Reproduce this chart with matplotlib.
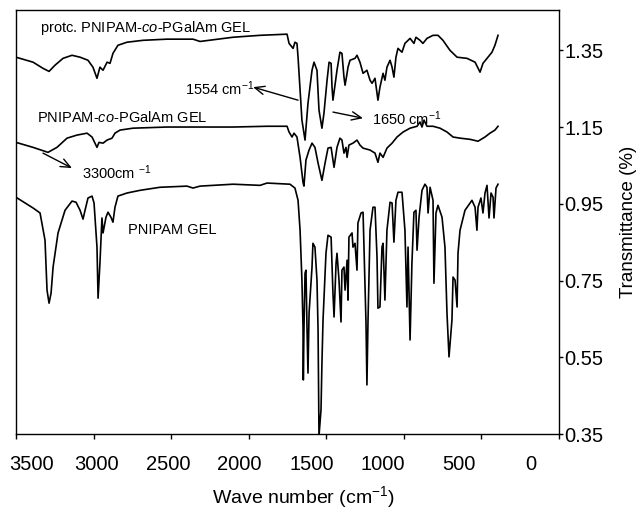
import numpy as np
import matplotlib
matplotlib.use('Agg')
import matplotlib.pyplot as plt

plt.rcParams['font.family'] = ['Liberation Sans', 'DejaVu Sans']
plt.rcParams['mathtext.fontset'] = 'custom'
plt.rcParams['mathtext.rm'] = 'Liberation Sans'
plt.rcParams['mathtext.it'] = 'Liberation Sans:italic'

# PNIPAM GEL spectrum (wavenumber, transmittance)
pnipam_wn = [3500, 3390, 3345, 3313, 3300, 3287, 3274, 3261, 3229, 3184, 3139, 3113, 3087, 3068,
             3055, 3036, 3010, 2997, 2978, 2971, 2959, 2946, 2939, 2920, 2907, 2888, 2875, 2862,
             2843, 2785, 2701, 2572, 2398, 2359, 2314, 2101, 1927, 1882, 1734, 1702, 1682, 1669,
             1657, 1650, 1648, 1644, 1637, 1631, 1624, 1618, 1611, 1592, 1586, 1573, 1560, 1553,
             1547, 1534, 1528, 1521, 1502, 1489, 1469, 1457, 1450, 1437, 1431, 1418, 1405, 1399,
             1386, 1379, 1366, 1360, 1354, 1334, 1328, 1315, 1302, 1296, 1276, 1263, 1257, 1244,
             1238, 1231, 1218, 1199, 1186, 1173, 1167, 1154, 1141, 1134, 1122, 1109, 1089, 1076,
             1064, 1051, 1038, 1012, 993, 980, 973, 960, 948, 935, 922, 915, 902, 883, 864, 851,
             844, 831, 812, 806, 793, 780, 754, 735, 722, 709, 690, 683, 670, 657, 651, 638, 606,
             561, 541, 529, 522, 503, 490, 477, 464, 451, 438, 425, 419, 406, 393]
pnipam_t = [0.967, 0.939, 0.926, 0.855, 0.725, 0.691, 0.717, 0.785, 0.874, 0.933, 0.957, 0.954,
            0.933, 0.910, 0.933, 0.965, 0.970, 0.952, 0.837, 0.704, 0.795, 0.913, 0.874, 0.915,
            0.928, 0.915, 0.902, 0.941, 0.970, 0.978, 0.985, 0.993, 0.996, 0.991, 0.996, 1.001,
            0.998, 1.004, 1.001, 0.991, 0.959, 0.881, 0.751, 0.629, 0.491, 0.621, 0.769, 0.777,
            0.621, 0.509, 0.665, 0.785, 0.847, 0.837, 0.751, 0.621, 0.345, 0.413, 0.535, 0.647,
            0.821, 0.868, 0.863, 0.717, 0.655, 0.795, 0.821, 0.751, 0.642, 0.777, 0.785, 0.725,
            0.803, 0.699, 0.863, 0.874, 0.837, 0.847, 0.777, 0.900, 0.926, 0.928, 0.837, 0.639,
            0.478, 0.647, 0.881, 0.941, 0.941, 0.811, 0.678, 0.681, 0.837, 0.847, 0.699, 0.881,
            0.954, 0.952, 0.850, 0.959, 0.980, 0.980, 0.881, 0.681, 0.837, 0.595, 0.795, 0.928,
            0.933, 0.829, 0.915, 0.985, 1.001, 0.993, 0.926, 0.993, 0.959, 0.743, 0.926, 0.946,
            0.915, 0.837, 0.665, 0.551, 0.647, 0.759, 0.751, 0.681, 0.821, 0.881, 0.933, 0.959,
            0.941, 0.881, 0.941, 0.965, 0.926, 0.978, 0.998, 0.913, 0.978, 0.967, 0.913, 0.991,
            1.001]

# PNIPAM-co-PGalAm GEL spectrum
copoly_wn = [3500, 3390, 3294, 3236, 3171, 3107, 3042, 3010, 2978, 2965, 2939, 2913, 2881, 2862,
             2830, 2746, 2527, 2314, 2101, 1882, 1753, 1740, 1721, 1708, 1689, 1669, 1650, 1644,
             1631, 1611, 1592, 1573, 1553, 1528, 1508, 1489, 1469, 1457, 1450, 1431, 1412, 1399,
             1386, 1373, 1366, 1354, 1328, 1302, 1283, 1263, 1218, 1186, 1167, 1154, 1134, 1109,
             1076, 1044, 1005, 960, 915, 896, 883, 870, 851, 812, 767, 722, 683, 638, 574, 522,
             477, 445, 413, 393]
copoly_t = [1.110, 1.097, 1.084, 1.097, 1.121, 1.129, 1.134, 1.124, 1.097, 1.110, 1.108, 1.116,
            1.121, 1.134, 1.142, 1.147, 1.150, 1.150, 1.150, 1.152, 1.152, 1.137, 1.124, 1.134,
            1.124, 1.071, 1.006, 0.996, 1.064, 1.090, 1.108, 1.097, 1.056, 1.011, 1.056, 1.095,
            1.097, 1.064, 1.045, 1.097, 1.121, 1.116, 1.082, 1.097, 1.071, 1.103, 1.108, 1.116,
            1.103, 1.095, 1.090, 1.082, 1.058, 1.082, 1.071, 1.095, 1.108, 1.124, 1.137, 1.147,
            1.152, 1.163, 1.150, 1.168, 1.152, 1.152, 1.147, 1.137, 1.124, 1.121, 1.118, 1.113,
            1.124, 1.134, 1.142, 1.152]

# protected PNIPAM-co-PGalAm GEL spectrum
protc_wn = [3500, 3390, 3326, 3287, 3249, 3197, 3139, 3087, 3036, 3004, 2978, 2959, 2939, 2913,
            2894, 2875, 2843, 2785, 2681, 2527, 2359, 2314, 2101, 1927, 1753, 1740, 1714, 1702,
            1689, 1682, 1657, 1637, 1618, 1592, 1579, 1560, 1547, 1528, 1515, 1495, 1482, 1469,
            1463, 1457, 1431, 1412, 1399, 1386, 1379, 1366, 1360, 1347, 1315, 1302, 1283, 1263,
            1238, 1218, 1205, 1186, 1167, 1154, 1134, 1122, 1109, 1089, 1076, 1064, 1051, 1038,
            1012, 993, 960, 935, 922, 896, 877, 851, 812, 780, 748, 703, 657, 593, 541, 509, 490,
            458, 432, 413, 393]
protc_t = [1.332, 1.319, 1.303, 1.295, 1.311, 1.329, 1.337, 1.332, 1.324, 1.306, 1.277, 1.306,
           1.298, 1.319, 1.316, 1.342, 1.363, 1.371, 1.376, 1.379, 1.379, 1.373, 1.384, 1.389,
           1.392, 1.368, 1.355, 1.371, 1.368, 1.332, 1.168, 1.116, 1.212, 1.298, 1.319, 1.298,
           1.194, 1.147, 1.186, 1.272, 1.319, 1.316, 1.254, 1.220, 1.298, 1.345, 1.342, 1.280,
           1.259, 1.290, 1.306, 1.324, 1.329, 1.337, 1.319, 1.290, 1.298, 1.272, 1.264, 1.277,
           1.220, 1.254, 1.290, 1.272, 1.306, 1.324, 1.306, 1.280, 1.332, 1.355, 1.345, 1.368,
           1.381, 1.368, 1.384, 1.376, 1.368, 1.381, 1.389, 1.389, 1.376, 1.350, 1.332, 1.329,
           1.319, 1.293, 1.316, 1.332, 1.345, 1.363, 1.389]

tick_vals = [3500, 3000, 2500, 2000, 1500, 1000, 500, 0]
tick_labels = ['3500', '3000', '2500', '2000', '1500', '1000', '500', '0']
# where the printed labels sit (they drift from the tick marks in the original)
label_pos = [3397, 2978, 2520, 2063, 1592, 1134, 644, 180]
y_ticks = [0.35, 0.55, 0.75, 0.95, 1.15, 1.35]

fig = plt.figure(figsize=(6.4, 5.08), dpi=100)
ax = fig.add_axes([16 / 640, 1 - 434 / 508, 543 / 640, 424 / 508])

for wn, t in [(pnipam_wn, pnipam_t), (copoly_wn, copoly_t), (protc_wn, protc_t)]:
    ax.plot(wn, t, color='black', lw=1.2)

ax.set_xlim(3500, 0)
ax.set_ylim(0.35, 1.455)

ax.set_xticks(tick_vals)
ax.set_xticklabels([])
ax.set_xticks(label_pos, minor=True)
ax.set_xticklabels(tick_labels, minor=True, fontsize=14.5)
ax.tick_params(axis='x', which='major', direction='out', length=3.5, width=1)
ax.tick_params(axis='x', which='minor', length=0, pad=15)

ax.yaxis.tick_right()
ax.yaxis.set_label_position('right')
ax.set_yticks(y_ticks)
ax.set_yticklabels(['%.2f' % v for v in y_ticks], fontsize=14.5)
ax.tick_params(axis='y', direction='out', length=3, width=1, pad=1)

for s in ax.spines.values():
    s.set_linewidth(1.0)

ax.set_xlabel('Wave number (cm$^{-1}$)', fontsize=14)
ax.xaxis.set_label_coords(0.529, -0.117)
ax.set_ylabel('Transmittance (%)', fontsize=13.5, labelpad=12)

fs = 10.5
ax.text(3345, 1.407, 'protc. PNIPAM-$\\it{co}$-PGalAm GEL', fontsize=fs, va='center')
ax.text(3364, 1.176, 'PNIPAM-$\\it{co}$-PGalAm GEL', fontsize=fs, va='center')
ax.text(2778, 0.881, 'PNIPAM GEL', fontsize=fs, va='center')

arrow = dict(arrowstyle='->,head_length=0.7,head_width=0.3', color='black', lw=1.0,
             shrinkA=0, shrinkB=0)
ax.annotate('', xy=(3139, 1.043), xytext=(3326, 1.082), arrowprops=arrow)
ax.text(3074, 1.030, '3300cm $^{-1}$', fontsize=fs, va='center')
ax.annotate('', xy=(1972, 1.254), xytext=(1682, 1.220), arrowprops=arrow)
ax.text(2411, 1.251, '1554 cm$^{-1}$', fontsize=fs, va='center')
ax.annotate('', xy=(1263, 1.173), xytext=(1457, 1.189), arrowprops=arrow)
ax.text(1205, 1.173, '1650 cm$^{-1}$', fontsize=fs, va='center')

fig.savefig('out.png', dpi=100)
